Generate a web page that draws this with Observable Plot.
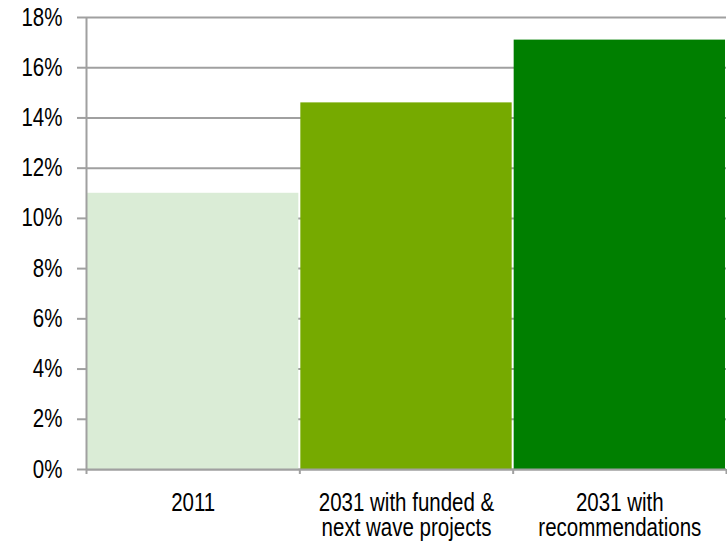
<!DOCTYPE html>
<html><head><meta charset="utf-8">
<script src="https://cdn.jsdelivr.net/npm/d3@7"></script>
<script src="https://cdn.jsdelivr.net/npm/@observablehq/plot@0.6"></script>
<style>body{margin:0;background:#fff}</style>
</head><body><div id="chart"></div>
<script>
const categories = ["2011", "2031 with funded &\nnext wave projects", "2031 with\nrecommendations"];
const values = [11, 14.6, 17.1];
const colors = ["#daecd6", "#76aa00", "#007f00"];
const yTicks = [0, 2, 4, 6, 8, 10, 12, 14, 16, 18];
const data = categories.map((c, i) => ({i, c, v: values[i]}));
const gray = "#a0a0a0";
const chart = Plot.plot({
  width: 727, height: 546,
  marginLeft: 86, marginRight: 1, marginTop: 17, marginBottom: 77,
  style: {fontFamily: '"Liberation Sans",Arial,sans-serif', fontSize: "25px", color: "#000", background: "#fff"},
  x: {domain: [0, 3], axis: null},
  y: {domain: [0, 18], axis: null},
  color: {domain: categories, range: colors},
  marks: [
    Plot.gridY(yTicks, {stroke: gray, strokeOpacity: 1, strokeWidth: 2}),
    Plot.rectY(data, {x1: "i", x2: d => d.i + 1, y: "v", fill: "c", insetLeft: 1, insetRight: 1}),
    Plot.axisY(yTicks, {label: null, tickSize: 9, tickPadding: 15, stroke: gray, strokeWidth: 2, tickFormat: d => d + "%", fontSize: 25}),
    Plot.ruleX([0], {stroke: gray, strokeWidth: 2}),
    Plot.ruleY([0], {stroke: gray, strokeWidth: 2}),
    Plot.axisX([0, 1, 2, 3], {label: null, tickSize: 5, stroke: gray, strokeWidth: 2, tickFormat: () => ""}),
    Plot.axisX([0.5, 1.5, 2.5], {label: null, tickSize: 0, tickPadding: 24, fontSize: 25, lineHeight: 1, tickFormat: d => categories[Math.floor(d)]})
  ]
});
// condense text horizontally to mimic a narrow typeface
const s = 0.82;
chart.querySelectorAll("text").forEach(t => {
  const tr = t.getAttribute("transform") || "";
  const x = +(t.getAttribute("x") || 0);
  t.setAttribute("transform", `${tr} translate(${x},0) scale(${s},1) translate(${-x},0)`);
});
document.getElementById("chart").appendChild(chart);
</script>
</body></html>
